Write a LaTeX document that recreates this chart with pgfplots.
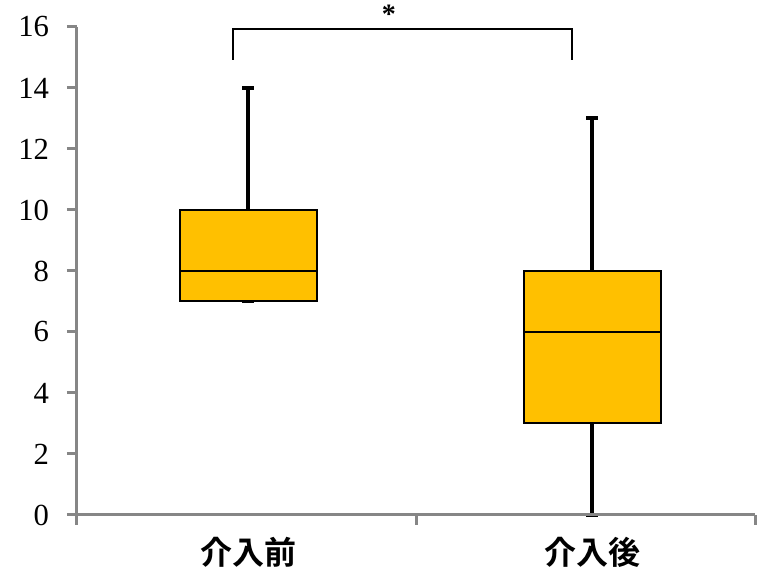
\documentclass[border=0pt]{standalone}
\usepackage{fontspec}
\setmainfont{Liberation Serif}
\newfontfamily\cjk{Noto Sans CJK JP}[BoldFont={Noto Sans CJK JP Bold}]
\usepackage{pgfplots}
\pgfplotsset{compat=1.18}
\usepgfplotslibrary{statistics}
\usetikzlibrary{calc}
\definecolor{boxgold}{HTML}{FFC000}
\definecolor{axisgray}{HTML}{868686}

\begin{document}
\begin{tikzpicture}
\begin{axis}[
  name=ax,
  scale only axis,
  width=508.5pt, height=366pt,
  xmin=0.5, xmax=2.5,
  ymin=0, ymax=16,
  ytick={0,2,...,16},
  xtick={0.5,1.5,2.5},
  xticklabels={},
  extra x ticks={1.005,2.02},
  extra x tick labels={介入前,介入後},
  extra x tick style={major tick length=0pt,
    xticklabel style={font=\cjk\bfseries\fontsize{24}{24}\selectfont, yshift=-13pt}},
  axis x line=bottom, axis y line=left,
  axis line style={-, draw=axisgray, line width=2.25pt},
  tick style={draw=axisgray, line width=2.25pt},
  tick align=outside,
  major tick length=7.5pt,
  yticklabel style={font=\fontsize{23}{23}\selectfont, xshift=-10pt},
  /pgf/number format/assume math mode=true,
  axis on top,
  clip=false,
  boxplot/draw direction=y,
  boxplot/box extend=0.404,
  boxplot/whisker extend=0.036,
  boxplot/every box/.style={draw=black, fill=boxgold, line width=1.5pt},
  boxplot/every whisker/.style={draw=black, line width=3pt},
  boxplot/every median/.style={draw=black, line width=1.2pt},
]
% before intervention
\addplot+[no marks, boxplot prepared={draw position=1.005,
  lower whisker=7, lower quartile=7, median=8,
  upper quartile=10, upper whisker=14}] coordinates {};
% after intervention
\addplot+[no marks, boxplot prepared={draw position=2.02,
  lower whisker=0, lower quartile=3, median=6,
  upper quartile=8, upper whisker=13}] coordinates {};

% significance bracket
\draw[black, line width=1.5pt] (axis cs:0.96,14.92) -- (axis cs:0.96,15.93)
  -- (axis cs:1.96,15.93) -- (axis cs:1.96,14.92);
\node[font=\bfseries\fontsize{21}{21}\selectfont] at (axis cs:1.42,16.42) {*};
\end{axis}
\pgfresetboundingbox
\path[use as bounding box] ($(ax.south west)+(-57.75pt,-46.5pt)$) rectangle ($(ax.north east)+(2.25pt,20.25pt)$);
\end{tikzpicture}
\end{document}
